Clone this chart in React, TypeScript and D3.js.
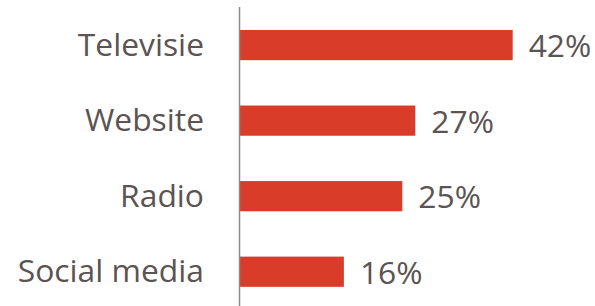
import React, { useEffect, useRef } from 'react';
import * as d3 from 'd3';

const categories = ['Televisie', 'Website', 'Radio', 'Social media'];
const values = [42, 27, 25, 16];

const App = () => {
  const ref = useRef<SVGSVGElement>(null);

  useEffect(() => {
    const width = 595;
    const height = 306;
    const left = 240;

    const svg = d3.select(ref.current);
    svg.selectAll('*').remove();
    svg.attr('width', width).attr('height', height);

    const x = d3.scaleLinear().domain([0, 42]).range([left, 512.7]);
    const y = d3
      .scaleBand()
      .domain(categories)
      .range([7.3, 309.5])
      .paddingInner(0.6)
      .paddingOuter(0.3);

    const data = categories.map((c, i) => ({ name: c, value: values[i] }));

    svg
      .selectAll('.bar')
      .data(data)
      .enter()
      .append('rect')
      .attr('class', 'bar')
      .attr('x', x(0))
      .attr('y', (d) => y(d.name)!)
      .attr('width', (d) => x(d.value) - x(0))
      .attr('height', y.bandwidth())
      .attr('fill', '#d93d2a');

    // category labels
    svg
      .selectAll('.cat')
      .data(data)
      .enter()
      .append('text')
      .attr('x', 204)
      .attr('y', (d) => y(d.name)! + y.bandwidth() / 2 + 10.5)
      .attr('text-anchor', 'end')
      .attr('font-family', 'Open Sans')
      .attr('font-size', 31.8)
      .attr('fill', '#5c5353')
      .text((d) => d.name);

    // value labels
    svg
      .selectAll('.val')
      .data(data)
      .enter()
      .append('text')
      .attr('x', (d) => x(d.value) + 16)
      .attr('y', (d) => y(d.name)! + y.bandwidth() / 2 + 12)
      .attr('font-family', 'Open Sans')
      .attr('font-size', 31.8)
      .attr('fill', '#5c5353')
      .text((d) => d.value + '%');

    svg
      .append('line')
      .attr('x1', 239.5)
      .attr('x2', 239.5)
      .attr('y1', 7)
      .attr('y2', height)
      .attr('stroke', '#8c8c8c')
      .attr('stroke-width', 1.5);
  }, []);

  return (
    <div style={{ position: 'absolute', left: 0, top: 0 }}>
      <svg ref={ref} style={{ display: 'block' }}></svg>
    </div>
  );
};

export default App;
